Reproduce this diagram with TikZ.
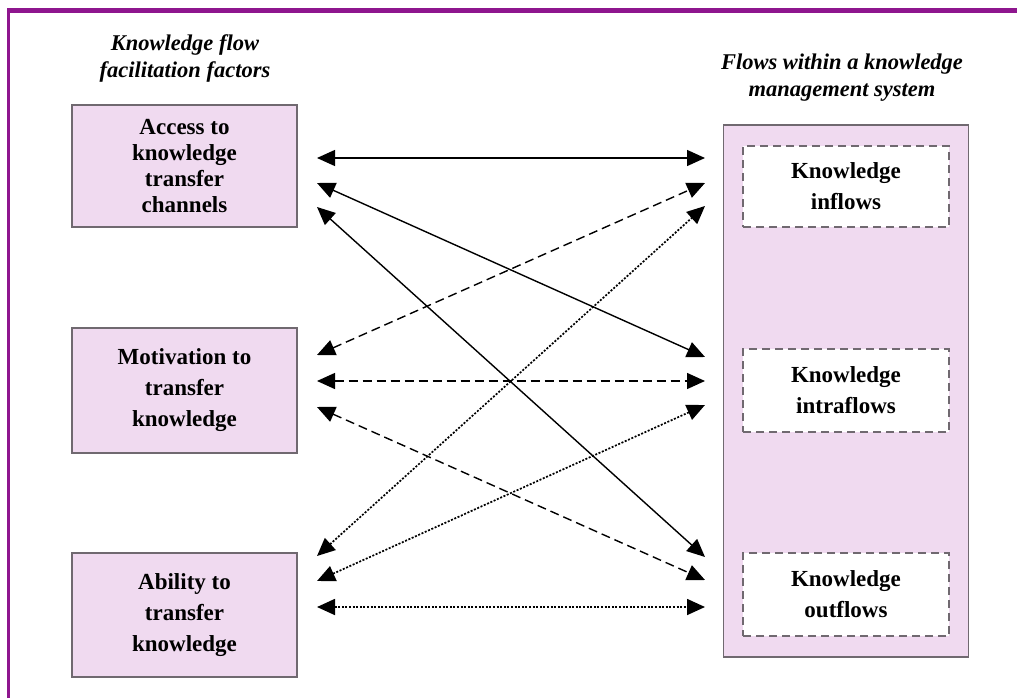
\documentclass[tikz,border=0pt]{standalone}
\usepackage{fontspec}
\setmainfont{Liberation Serif}
\usetikzlibrary{arrows.meta}
\definecolor{framecol}{RGB}{142,22,142}
\definecolor{boxfill}{RGB}{240,218,240}
\definecolor{boxline}{RGB}{112,105,112}
\tikzset{
  factor/.style={draw=boxline, line width=1.5pt, fill=boxfill, minimum width=225pt,
    align=center, inner sep=0pt, font=\fontsize{23}{31}\selectfont\bfseries},
  flowbox/.style={draw=boxline, line width=1.6pt, fill=white, dash pattern=on 8pt off 5pt,
    minimum width=206pt, align=center, inner sep=0pt, font=\fontsize{23}{31}\selectfont\bfseries},
  headtext/.style={align=center, inner sep=0pt, font=\fontsize{22.5}{26.5}\selectfont\bfseries\itshape},
  link/.style={line width=1.4pt, {Triangle[length=18pt,width=16pt]}-{Triangle[length=18pt,width=16pt]}},
  solidlink/.style={link},
  dashlink/.style={link, dash pattern=on 9pt off 5pt},
  dotlink/.style={link, line width=1.7pt, dash pattern=on 2pt off 1.6pt}
}
\begin{document}
\begin{tikzpicture}[x=1pt,y=-1pt]
\useasboundingbox (0,0) rectangle (1017,698);
\fill[white] (0,0) rectangle (1017,698);
% frame
\fill[framecol] (7,8) rectangle (1017,13);
\fill[framecol] (7,8) rectangle (10,698);

% titles
\node[headtext] (lefttitle) at (185,58.5) {Knowledge flow\\facilitation factors};
\node[headtext] (righttitle) at (842,77.5) {Flows within a knowledge\\management system};

% left factor boxes
\node[factor, minimum height=122pt, font=\fontsize{23}{25.7}\selectfont\bfseries] (acc) at (184.5,166) {Access to\\knowledge\\transfer\\channels};
\node[factor, minimum height=125pt] (mot) at (184.5,390.5) {Motivation to\\transfer\\knowledge};
\node[factor, minimum height=124pt] (abi) at (184.5,615) {Ability to\\transfer\\knowledge};

% right system box
\node[draw=boxline, line width=1.5pt, fill=boxfill, minimum width=245pt, minimum height=532pt, inner sep=0pt] (kms) at (846,391) {};
\node[flowbox, minimum height=81pt] (inf) at (846,186.5) {Knowledge\\inflows};
\node[flowbox, minimum height=83pt] (intra) at (846,390.5) {Knowledge\\intraflows};
\node[flowbox, minimum height=83pt] (outf) at (846,594.5) {Knowledge\\outflows};

% arrow ends
\coordinate (L1) at (317,158); \coordinate (L2) at (317,183); \coordinate (L3) at (317,207);
\coordinate (L4) at (317,355); \coordinate (L5) at (317,381); \coordinate (L6) at (317,407);
\coordinate (L7) at (317,556); \coordinate (L8) at (317,581); \coordinate (L9) at (317,607);
\coordinate (R1) at (705,158); \coordinate (R2) at (705,183); \coordinate (R3) at (705,206);
\coordinate (R4) at (705,357); \coordinate (R5) at (705,381); \coordinate (R6) at (705,405);
\coordinate (R7) at (705,557); \coordinate (R8) at (705,580); \coordinate (R9) at (705,607);

% connectors
\draw[solidlink] (L1) -- (R1);
\draw[solidlink] (L2) -- (R4);
\draw[solidlink] (L3) -- (R7);
\draw[dashlink] (L4) -- (R2);
\draw[dashlink] (L5) -- (R5);
\draw[dashlink] (L6) -- (R8);
\draw[dotlink] (L7) -- (R3);
\draw[dotlink] (L8) -- (R6);
\draw[dotlink] (L9) -- (R9);
\end{tikzpicture}
\end{document}
